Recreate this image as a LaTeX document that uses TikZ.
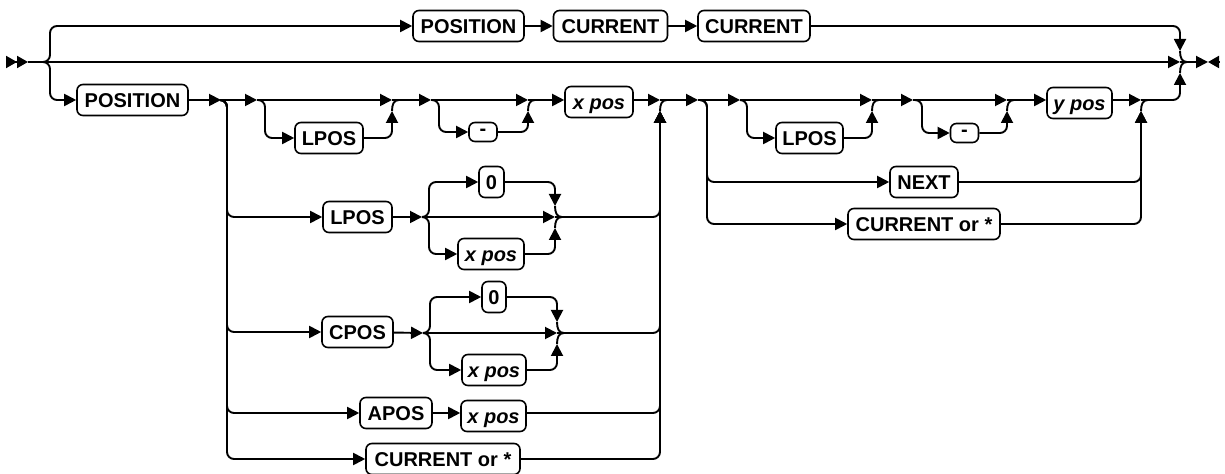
\documentclass[tikz,border=0pt]{standalone}
\usepackage{fontspec}
\setmainfont{Liberation Sans}
\usetikzlibrary{arrows.meta}

\begin{document}
\begin{tikzpicture}[
    x=0.5pt, y=-0.5pt,
    line width=0.95pt,
    rounded corners=3.5pt,
    >={Triangle[length=6pt,width=6pt]},
    kw/.style={draw, rounded corners=3pt, line width=0.8pt, minimum height=15.5pt,
      inner xsep=0pt, inner ysep=0pt, text height=7.2pt, text depth=0pt,
      font=\bfseries\fontsize{10}{12}\selectfont},
    var/.style={kw, font=\bfseries\itshape\fontsize{10}{12}\selectfont},
    small/.style={minimum height=9.5pt, text height=3.5pt},
    wd/.style={minimum width=#1*0.5pt},
    joinup/.pic={\draw (0,11) .. controls (0,4) and (2,0) .. (7,0);},
    joindown/.pic={\draw (0,-11) .. controls (0,-4) and (2,0) .. (7,0);}
]
\useasboundingbox (0,0) rectangle (1225,474);

% Rail points
\coordinate (begin) at (6,62);
\coordinate (start) at (28,62);
\coordinate (split0) at (43,62);
\coordinate (mergeEnd) at (1180,62);
\coordinate (topIn) at (1180,51);
\coordinate (botIn) at (1180,73);
\coordinate (endTip) at (1208,62);
\coordinate (endBack) at (1219,62);

\coordinate (split1) at (221,100);
\coordinate (split2) at (257,100);
\coordinate (merge1) at (392,100);
\coordinate (split3) at (431,100);
\coordinate (merge2) at (528,100);
\coordinate (merge3) at (660,100);
\coordinate (split4) at (698,100);
\coordinate (split5) at (740,100);
\coordinate (merge4) at (872,100);
\coordinate (split6) at (913,100);
\coordinate (merge5) at (1007,100);
\coordinate (merge6) at (1141,100);

\coordinate (splitA) at (422,217);
\coordinate (mergeA) at (555,217);
\coordinate (splitB) at (423,333);
\coordinate (mergeB) at (557,333);

% Keywords and variables
\node[kw, wd=111] (topPos) at (468.5,26) {POSITION};
\node[kw, wd=114] (topCur1) at (610.5,26) {CURRENT};
\node[kw, wd=112] (topCur2) at (754,26) {CURRENT};

\node[kw, wd=111] (pos) at (132.5,100) {POSITION};
\node[kw, wd=68] (xLpos) at (329,138) {LPOS};
\node[kw, small, wd=28] (xMinus) at (483,132) {-};
\node[var, wd=68] (xPos) at (599,102) {x pos};

\node[kw, wd=69] (lpos) at (357.5,217) {LPOS};
\node[kw, wd=25] (lposZero) at (491.5,182) {0};
\node[var, wd=66] (lposX) at (491,254) {x pos};
\node[kw, wd=71] (cpos) at (357.5,332) {CPOS};
\node[kw, wd=24] (cposZero) at (494,297) {0};
\node[var, wd=64] (cposX) at (494,370) {x pos};
\node[kw, wd=72] (apos) at (396,413) {APOS};
\node[var, wd=65] (aposX) at (493.5,416) {x pos};
\node[kw, wd=154] (xCur) at (443,459) {CURRENT or *};

\node[kw, wd=67] (yLpos) at (809.5,138) {LPOS};
\node[kw, small, wd=28] (yMinus) at (964.5,133) {-};
\node[var, wd=65] (yPos) at (1079.5,103) {y pos};
\node[kw, wd=68] (next) at (924,182) {NEXT};
\node[kw, wd=152] (yCur) at (924,224) {CURRENT or *};

% Start and end marks, main line
\draw[-{Triangle[length=5.5pt,width=6pt]Triangle[length=5.5pt,width=6pt]}] (begin) -- (start);
\draw[->] (start) -- (mergeEnd);
\draw[->] (mergeEnd) -- (endTip);
\draw[-{Triangle[length=5.5pt,width=6pt]}] (endBack) -- (endTip);

% Upper branch
\draw[->] (split0) -- ++(7,0) |- (topPos.west);
\draw[->] (topPos) -- (topCur1);
\draw[->] (topCur1) -- (topCur2);
\draw[->] (topCur2.east) -| (topIn);
\pic at (mergeEnd) {joindown};

% Lower branch, x part
\draw[->] (split0) -- ++(7,0) |- (pos.west);
\draw[->] (pos) -- (split1);
\draw[->] (split1) -- (split2);
\draw[->] (split2) -- ++(8,0) |- (xLpos.west);
\draw[->] (split2) -- (merge1);
\draw[->] (xLpos.east) -| ([yshift=-5.5pt]merge1);
\pic at (merge1) {joinup};
\draw[->] (merge1) -- (split3);
\draw[->] (split3) -- ++(8,0) |- (xMinus.west);
\draw[->] (split3) -- (merge2);
\draw[->] (xMinus.east) -| ([yshift=-5.5pt]merge2);
\pic at (merge2) {joinup};
\draw[->] (merge2) -- (merge2 -| xPos.west);
\draw[->] (xPos.east |- merge3) -- (merge3);

% LPOS alternative
\draw[->] (split1) -- ++(6,0) |- (lpos.west);
\draw[->] (lpos) -- (splitA);
\draw[->] (splitA) -- ++(7,0) |- (lposZero.west);
\draw[->] (splitA) -- ++(7,0) |- (lposX.west);
\draw[->] (splitA) -- (mergeA);
\draw[->] (lposZero.east) -| ([yshift=5.5pt]mergeA);
\draw[->] (lposX.east) -| ([yshift=-5.5pt]mergeA);
\pic at (mergeA) {joindown};
\pic at (mergeA) {joinup};
\draw[->] (mergeA) -| ([yshift=-5.5pt]merge3);

% CPOS alternative
\draw[->] (split1) -- ++(6,0) |- (cpos.west);
\draw[->] (cpos) -- (splitB);
\draw[->] (splitB) -- ++(7,0) |- (cposZero.west);
\draw[->] (splitB) -- ++(7,0) |- (cposX.west);
\draw[->] (splitB) -- (mergeB);
\draw[->] (cposZero.east) -| ([yshift=5.5pt]mergeB);
\draw[->] (cposX.east) -| ([yshift=-5.5pt]mergeB);
\pic at (mergeB) {joindown};
\pic at (mergeB) {joinup};
\draw[->] (mergeB) -| ([yshift=-5.5pt]merge3);

% APOS and CURRENT alternatives
\draw[->] (split1) -- ++(6,0) |- (apos.west);
\draw[->] (apos.east) -- (apos.east -| aposX.west);
\draw[->] (aposX.east |- apos) -| ([yshift=-5.5pt]merge3);
\draw[->] (split1) -- ++(6,0) |- (xCur.west);
\draw[->] (xCur.east) -| ([yshift=-5.5pt]merge3);
\pic at (merge3) {joinup};

% y part
\draw[->] (merge3) -- (split4);
\draw[->] (split4) -- ++(9,0) |- (next.west);
\draw[->] (split4) -- ++(9,0) |- (yCur.west);
\draw[->] (split4) -- (split5);
\draw[->] (split5) -- ++(7,0) |- (yLpos.west);
\draw[->] (split5) -- (merge4);
\draw[->] (yLpos.east) -| ([yshift=-5.5pt]merge4);
\pic at (merge4) {joinup};
\draw[->] (merge4) -- (split6);
\draw[->] (split6) -- ++(9,0) |- (yMinus.west);
\draw[->] (split6) -- (merge5);
\draw[->] (yMinus.east) -| ([yshift=-5.5pt]merge5);
\pic at (merge5) {joinup};
\draw[->] (merge5) -- (merge5 -| yPos.west);
\draw[->] (yPos.east |- merge6) -- (merge6);
\draw[->] (next.east) -| ([yshift=-5.5pt]merge6);
\draw[->] (yCur.east) -| ([yshift=-5.5pt]merge6);
\pic at (merge6) {joinup};
\draw[->] (merge6) -| (botIn);
\pic at (mergeEnd) {joinup};

\end{tikzpicture}
\end{document}
